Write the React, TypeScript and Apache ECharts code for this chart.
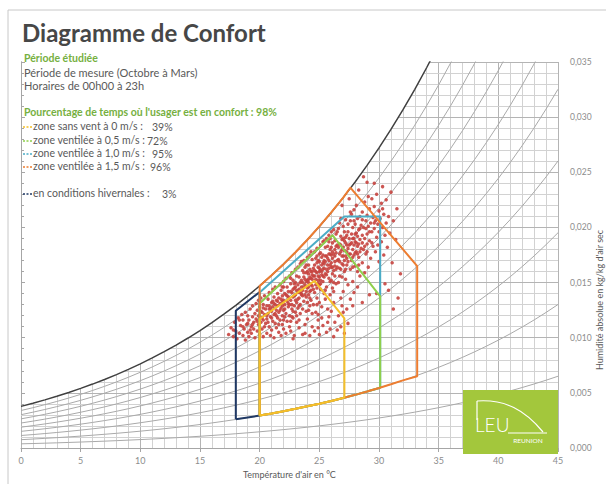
import React, { useEffect, useRef } from 'react';
import * as echarts from 'echarts';

// Saturation humidity (g/kg dry air) at T = 0..45 °C
const satHumidity = [
  3.775, 4.06, 4.364, 4.689, 5.034, 5.403, 5.796, 6.213, 6.657, 7.129,
  7.632, 8.166, 8.732, 9.334, 9.973, 10.651, 11.369, 12.131, 12.938, 13.794,
  14.7, 15.659, 16.674, 17.749, 18.885, 20.087, 21.359, 22.703, 24.124, 25.625,
  27.211, 28.887, 30.658, 32.527, 34.502, 36.587, 38.789, 41.114, 43.569, 46.161,
  48.897, 51.787, 54.84, 58.061, 61.466, 65.061,
];
const rhLevels = [0.1, 0.2, 0.3, 0.4, 0.5, 0.6, 0.7, 0.8, 0.9];

const xTicks = [0, 45, 5];
const yTicks = [0, 35, 5];

// Comfort zones [T °C, w g/kg]
const zoneWinter = [[18, 2.6], [18, 12.45], [20, 14.15], [20, 2.94], [18, 2.6]];
const zone0 = [[20, 2.94], [20, 11.7], [24.6, 15.15], [27.1, 11.75], [27.1, 4.57], [26, 4.27], [25, 4.02], [24, 3.78], [23, 3.55], [22, 3.33], [21, 3.13], [20, 2.94]];
const zone05 = [[20, 2.94], [20, 13.1], [26.1, 19.3], [30.1, 13.75], [30.1, 5.47], [29, 5.12], [28, 4.82], [27, 4.54], [26, 4.27], [25, 4.02], [24, 3.78], [23, 3.55], [22, 3.33], [21, 3.13], [20, 2.94]];
const zone10 = [[20, 2.94], [20, 14.1], [27.1, 21.0], [30.1, 21.0], [30.1, 5.47], [29, 5.12], [28, 4.82], [27, 4.54], [26, 4.27], [25, 4.02], [24, 3.78], [23, 3.55], [22, 3.33], [21, 3.13], [20, 2.94]];
const zone15 = [[20, 2.94], [20, 14.7], [21, 15.66], [22, 16.67], [23, 17.75], [24, 18.88], [25, 20.09], [26, 21.36], [27, 22.7], [27.6, 23.6], [33.2, 16.5], [33.2, 6.5], [32, 6.13], [31, 5.78], [30, 5.44], [29, 5.12], [28, 4.82], [27, 4.54], [26, 4.27], [25, 4.02], [24, 3.78], [23, 3.55], [22, 3.33], [21, 3.13], [20, 2.94]];

// Measured hourly points [T °C, w g/kg]
const measures = [
  [17.4,10.3],[17.6,10.9],[17.8,10.1],[17.9,11.4],[18.0,10.6],[18.1,9.9],[18.2,11.8],[18.3,10.4],[18.4,11.1],[18.5,12.1],
  [18.6,10.2],[18.6,11.6],[18.7,10.8],[18.8,12.3],[18.8,9.8],[18.9,11.2],[19.0,10.5],[19.0,12.0],[19.1,11.6],[19.1,10.1],[19.2,12.6],[19.3,11.0],[19.3,10.4],[19.4,11.9],[19.4,12.9],[19.5,10.8],[19.5,11.4],[19.2,10.7],
  [19.6,12.2],[19.6,10.0],[19.7,11.7],[19.7,13.1],[19.8,10.6],[19.8,12.5],[19.9,11.2],[19.9,13.4],[20.0,10.3],[20.0,11.9],[20.0,12.8],[20.1,11.4],[20.1,13.6],[20.2,10.8],[20.2,12.3],[20.3,11.6],[20.3,13.0],[20.3,10.1],[20.4,12.1],[20.4,11.0],[20.4,13.8],[20.5,12.6],[20.5,11.3],[20.2,11.8],[19.9,12.0],[20.1,12.4],
  [20.6,10.4],[20.6,12.9],[20.6,11.7],[20.7,13.5],[20.7,12.2],[20.8,11.0],[20.8,14.1],[20.8,12.6],[20.9,10.2],[20.9,11.9],[21.0,13.2],[21.0,12.4],[21.0,10.7],[21.1,14.4],[21.1,11.5],[21.1,12.8],[21.2,13.7],[21.2,10.0],[21.2,12.1],[21.3,11.3],[21.3,13.0],[21.3,14.6],[21.4,12.5],[21.4,10.9],[21.4,13.4],[21.5,11.8],[21.5,12.9],[21.5,14.0],[20.7,11.4],[20.9,12.7],[21.1,13.3],[21.3,12.2],
  [21.6,10.5],[21.6,13.6],[21.6,12.3],[21.7,14.8],[21.7,11.6],[21.7,13.1],[21.8,12.7],[21.8,10.2],[21.8,14.3],[21.9,13.8],[21.9,11.2],[21.9,12.0],[22.0,15.1],[22.0,13.4],[22.0,12.5],[22.0,10.8],[22.1,14.0],[22.1,11.9],[22.1,13.0],[22.2,15.4],[22.2,12.2],[22.2,10.4],[22.3,14.6],[22.3,13.3],[22.3,11.5],[22.4,12.8],[22.4,14.2],[22.4,13.7],[22.5,15.6],[22.5,12.0],[22.5,11.0],[21.8,13.5],[22.0,14.6],[22.2,13.9],[22.4,13.1],[21.9,12.9],
  [22.6,14.9],[22.6,13.4],[22.6,10.6],[22.7,12.6],[22.7,15.9],[22.7,14.1],[22.8,11.8],[22.8,13.7],[22.8,15.2],[22.9,12.9],[22.9,14.5],[22.9,10.2],[23.0,16.2],[23.0,13.9],[23.0,12.3],[23.0,15.0],[23.1,14.3],[23.1,11.4],[23.1,13.2],[23.2,16.4],[23.2,14.8],[23.2,12.7],[23.3,15.5],[23.3,13.6],[23.3,10.9],[23.4,14.1],[23.4,16.7],[23.4,12.2],[23.5,15.2],[23.5,13.9],[23.5,14.6],[22.7,13.0],[22.9,13.8],[23.1,15.6],[23.3,14.4],[23.0,14.6],[22.8,14.4],[23.2,13.5],[23.4,15.0],[23.1,12.0],
  [23.6,12.6],[23.6,16.1],[23.6,14.3],[23.7,17.0],[23.7,13.3],[23.7,15.5],[23.8,11.2],[23.8,14.8],[23.8,16.4],[23.9,13.7],[23.9,15.9],[23.9,12.4],[24.0,17.3],[24.0,14.5],[24.0,15.2],[24.0,11.7],[24.1,16.6],[24.1,13.9],[24.1,15.0],[24.2,14.2],[24.2,17.5],[24.2,12.9],[24.3,16.0],[24.3,15.4],[24.3,13.4],[24.4,17.1],[24.4,14.7],[24.4,11.0],[24.5,16.3],[24.5,15.6],[24.5,13.0],[23.7,14.6],[23.9,15.1],[24.1,15.8],[24.3,14.8],[24.0,16.0],[23.8,15.3],[24.2,15.5],[24.4,16.0],[23.6,15.0],[24.2,13.6],[23.9,14.2],[24.4,15.3],[24.1,14.6],
  [24.6,17.8],[24.6,14.1],[24.6,16.6],[24.7,15.3],[24.7,12.3],[24.7,17.2],[24.8,15.9],[24.8,13.6],[24.8,18.1],[24.9,16.4],[24.9,14.9],[24.9,11.6],[25.0,17.6],[25.0,15.5],[25.0,16.9],[25.0,13.2],[25.1,18.4],[25.1,16.1],[25.1,14.4],[25.2,15.7],[25.2,17.3],[25.2,12.8],[25.3,16.8],[25.3,18.7],[25.3,15.1],[25.4,14.0],[25.4,17.0],[25.4,16.3],[25.5,18.2],[25.5,15.8],[25.5,13.5],[24.7,16.0],[24.9,17.0],[25.1,15.2],[25.3,16.2],[24.8,16.8],[25.0,16.3],[25.2,16.6],[25.4,15.5],[24.6,15.6],[25.1,17.7],[24.9,15.6],[25.3,17.5],[25.0,14.8],[25.5,16.9],[24.8,14.5],
  [25.6,17.4],[25.6,14.6],[25.6,19.0],[25.7,16.0],[25.7,18.3],[25.7,12.6],[25.8,17.0],[25.8,15.4],[25.8,19.3],[25.9,16.6],[25.9,13.9],[25.9,18.0],[26.0,17.5],[26.0,19.6],[26.0,15.2],[26.0,16.8],[26.1,18.6],[26.1,14.5],[26.1,17.2],[26.2,16.1],[26.2,19.8],[26.2,13.2],[26.3,18.0],[26.3,16.9],[26.3,15.6],[26.4,17.7],[26.4,19.4],[26.4,14.9],[26.5,18.4],[26.5,16.4],[25.7,17.2],[25.9,17.6],[26.1,16.4],[26.3,17.4],[25.8,16.3],[26.0,18.2],[26.2,17.6],[26.4,16.2],[25.6,16.2],[26.1,15.8],[25.9,19.0],[26.3,18.8],
  [26.6,17.1],[26.6,19.9],[26.6,15.0],[26.7,18.5],[26.7,16.3],[26.7,20.4],[26.8,17.8],[26.8,13.6],[26.8,19.2],[26.9,16.7],[26.9,18.9],[26.9,15.5],[27.0,20.1],[27.0,17.4],[27.0,18.2],[27.0,14.2],[27.1,19.6],[27.1,16.0],[27.1,17.9],[27.2,20.7],[27.2,18.6],[27.2,15.3],[27.3,17.2],[27.3,19.3],[27.3,16.6],[27.4,20.3],[27.4,18.1],[27.4,14.8],[27.5,19.0],[27.5,17.6],[26.7,17.6],[26.9,18.0],[27.1,18.8],[27.3,18.4],[26.8,18.4],[27.0,19.0],[27.2,17.4],[27.4,19.6],
  [27.6,20.6],[27.6,16.2],[27.6,18.5],[27.7,19.4],[27.7,17.0],[27.7,21.2],[27.8,18.0],[27.8,15.1],[27.8,20.0],[27.9,19.0],[27.9,17.5],[27.9,21.6],[28.0,18.7],[28.0,16.5],[28.0,20.3],[28.1,19.5],[28.1,17.8],[28.1,22.0],[28.2,18.3],[28.2,20.8],[28.2,16.0],[28.3,19.8],[28.3,17.3],[28.4,21.0],[28.4,18.9],[28.4,15.6],[28.5,20.2],[28.5,18.1],[27.8,19.0],[28.0,19.4],[28.2,19.2],[28.4,19.9],
  [28.6,19.3],[28.6,21.4],[28.6,16.8],[28.7,20.0],[28.7,18.0],[28.8,22.3],[28.8,19.0],[28.8,15.9],[28.9,20.6],[28.9,17.6],[29.0,21.1],[29.0,19.4],[29.0,18.5],[29.1,20.1],[29.1,16.4],[29.2,21.7],[29.2,18.8],[29.3,20.4],[29.3,17.2],[29.4,19.6],[29.4,22.6],[29.5,18.3],[29.5,20.9],[28.9,19.9],
  [29.6,19.9],[29.6,21.9],[29.7,17.8],[29.7,20.6],[29.8,19.1],[29.8,23.0],[29.9,20.3],[29.9,18.4],[30.0,21.5],[30.0,19.6],[30.0,16.9],[30.1,20.8],[30.2,22.2],[30.2,18.7],[30.3,20.0],[30.4,21.2],[30.4,17.5],[30.5,19.3],
  [30.6,22.5],[30.6,20.4],[30.7,18.2],[30.8,21.0],[30.9,19.5],[31.0,23.2],[31.1,16.8],[31.2,20.6],[31.4,18.9],[31.5,21.7],[31.8,15.8],[31.6,13.6],
  [28.3,23.4],[29.0,24.1],[28.7,24.6],[29.6,24.0],[30.3,23.7],[26.9,22.0],[27.5,22.6],[30.8,14.3],[31.2,12.6],[29.8,14.0],[30.5,14.9],[29.2,13.9],[28.6,13.2],[27.8,12.9],[26.3,11.4],[24.9,10.9],[23.6,10.3],[22.8,9.9],[25.8,11.9],[27.0,12.3],
  [23.8,10.4],[24.2,10.2],[24.6,10.6],[25.0,10.3],[25.3,11.1],[25.6,10.5],[25.9,10.8],[26.2,10.1],[26.5,10.7],[26.8,11.0],[27.1,10.4],[27.4,11.3],[24.4,12.2],[25.7,11.4],[26.6,12.0],[27.3,12.6],[26.0,12.4],[24.9,12.1],[23.3,11.6],[22.6,11.5],[21.6,11.2],[27.6,13.5],[27.9,14.1],[28.2,14.6],[25.2,11.8],[26.9,12.9],
  [20.6,12.0],[20.8,12.9],[21.0,11.8],[21.2,13.1],[21.4,12.0],[21.5,13.3],[21.7,12.5],[21.9,13.3],[22.1,12.6],[22.3,13.8],[22.5,13.0],[22.6,14.2],[22.8,12.4],[22.9,14.9],[23.0,13.4],[23.2,14.1],[23.3,12.9],[23.5,14.0],[23.6,13.8],[23.7,15.9],[23.8,13.9],[23.9,16.6],[24.0,13.2],[24.1,15.3],[24.2,16.2],[24.3,14.3],[24.4,15.7],[24.5,14.4],[24.6,16.1],[24.7,14.8],[24.8,17.4],[24.9,15.2],[25.0,16.0],[25.1,14.9],[25.2,16.0],[25.3,15.6],[25.4,16.7],[25.5,17.4],[25.6,15.7],[25.7,16.6],[25.8,17.6],[25.9,15.1],[26.0,16.4],[26.1,17.8],[26.2,15.0],[26.3,16.5],[26.4,18.3],[26.5,17.0],[26.6,18.2],[26.7,16.9],[26.8,16.2],[26.9,17.4],[27.0,16.6],[27.1,17.0],[27.2,19.1],[27.3,17.8],[27.4,16.9],[27.5,18.4],[27.6,17.6],[27.7,18.6],[27.8,17.3],[27.9,18.4],[28.0,17.7],[28.1,18.6],[28.2,17.6],[28.3,18.5],[28.4,17.8],[28.6,18.6],[28.8,18.3],[29.0,17.8],[29.2,19.6],[29.4,18.6],[22.0,11.6],[22.7,11.9],[23.4,13.0],[24.1,12.5],[24.8,13.0],[25.5,14.3],[26.2,14.2],[26.7,15.6],[27.2,16.2],[27.8,16.4],[28.3,16.6],[20.3,12.7],[19.8,11.5],[19.4,11.2],[19.0,11.3],[18.6,11.0],[18.3,11.6],[17.8,10.7],[25.4,18.8],[26.5,19.6],[27.6,21.4],[28.6,20.7],[29.6,20.4],[30.3,21.7],[29.1,22.8],[24.3,17.8],[23.5,16.9],[22.6,15.4],[21.9,14.6],[25.8,18.7],[26.8,20.8],[27.9,20.6],
];

const legendRows = [
  { label: 'zone sans vent à 0 m/s :', value: '39%', color: '#f5c02a', y: 126, vx: 152 },
  { label: 'zone ventilée à 0,5 m/s :', value: '72%', color: '#8fcf4c', y: 140, vx: 147 },
  { label: 'zone ventilée à 1,0 m/s :', value: '95%', color: '#4bacc6', y: 153, vx: 152 },
  { label: 'zone ventilée à 1,5 m/s :', value: '96%', color: '#ed7d31', y: 166, vx: 150 },
  { label: 'en conditions hivernales :', value: '3%', color: '#1f3864', y: 193, vx: 162 },
];

const FONT = 'Lato, "Open Sans", sans-serif';

function dewT(w: number): number {
  if (w <= satHumidity[0]) return 0;
  for (let i = 0; i < satHumidity.length - 1; i++) {
    if (w >= satHumidity[i] && w <= satHumidity[i + 1]) {
      return i + (w - satHumidity[i]) / (satHumidity[i + 1] - satHumidity[i]);
    }
  }
  return 45;
}

function buildOption() {
  const gridData: any[] = [];
  for (let t = xTicks[0]; t <= xTicks[1]; t++) {
    const top = Math.min(satHumidity[t], yTicks[1]);
    gridData.push({ coords: [[t, 0], [t, top]], lineStyle: { color: t % 5 === 0 ? '#b4b4b4' : '#d2d2d2' } });
  }
  for (let w = 1; w <= yTicks[1]; w++) {
    gridData.push({ coords: [[dewT(w), w], [45, w]], lineStyle: { color: w % 5 === 0 ? '#b4b4b4' : '#d2d2d2' } });
  }

  const rhSeries = rhLevels.map((phi) => ({
    type: 'line',
    data: satHumidity.map((ws, t) => [t, ws * phi]),
    showSymbol: false,
    silent: true,
    lineStyle: { color: '#a9a9a9', width: 1 },
    z: 3,
  }));

  const zone = (data: number[][], color: string, z: number) => ({
    type: 'line',
    data,
    showSymbol: false,
    silent: true,
    lineStyle: { color, width: 2 },
    z,
  });

  const textStyle = (extra: any) => ({ fontFamily: FONT, fontSize: 10.5, fill: '#595959', ...extra });

  const graphics: any[] = [
    { type: 'line', shape: { x1: 8, y1: 10, x2: 606, y2: 10 }, style: { stroke: '#c8c8c8', lineWidth: 1 }, z: 100 },
    { type: 'line', shape: { x1: 8, y1: 10, x2: 8, y2: 484 }, style: { stroke: '#c8c8c8', lineWidth: 1 }, z: 100 },
    { type: 'text', x: 22, y: 32, style: textStyle({ text: 'Diagramme de Confort', fontSize: 24, fontWeight: 'bold', fill: '#474747', textVerticalAlign: 'middle' }), z: 100 },
    { type: 'text', x: 24, y: 58, style: textStyle({ text: 'Période étudiée', fontWeight: 'bold', fill: '#76b041', textVerticalAlign: 'middle' }), z: 100 },
    { type: 'text', x: 24, y: 72, style: textStyle({ text: 'Période de mesure (Octobre à Mars)', fontSize: 11, textVerticalAlign: 'middle' }), z: 100 },
    { type: 'text', x: 24, y: 85, style: textStyle({ text: 'Horaires de 00h00 à 23h', fontSize: 11, textVerticalAlign: 'middle' }), z: 100 },
    { type: 'text', x: 24, y: 112, style: textStyle({ text: "Pourcentage de temps où l'usager est en confort : 98%", fontWeight: 'bold', fill: '#76b041', textVerticalAlign: 'middle' }), z: 100 },
    { type: 'text', x: 599, y: 300, rotation: Math.PI / 2, style: textStyle({ text: "Humidité absolue en kg/kg d'air sec", fontSize: 9, textAlign: 'center', textVerticalAlign: 'middle' }), z: 100 },
    // logo
    { type: 'rect', shape: { x: 463, y: 390, width: 95, height: 64 }, style: { fill: '#a3c73c' }, z: 100 },
    { type: 'polyline', shape: { points: [[477, 420], [477, 401]] }, style: { stroke: '#ffffff', lineWidth: 1.2, fill: null }, z: 101 },
    { type: 'bezierCurve', shape: { x1: 477, y1: 401, cpx1: 505, cpy1: 399, cpx2: 525, cpy2: 410, x2: 543, y2: 432 }, style: { stroke: '#ffffff', lineWidth: 1.2, fill: null }, z: 101 },
    { type: 'line', shape: { x1: 508, y1: 433, x2: 547, y2: 433 }, style: { stroke: '#ffffff', lineWidth: 1 }, z: 101 },
    { type: 'text', x: 475, y: 434, style: { text: 'LEU', fontFamily: FONT, fontSize: 19, fontWeight: 300, fill: '#ffffff', textVerticalAlign: 'bottom' }, z: 101 },
    { type: 'text', x: 528, y: 440, style: { text: 'REUNION', fontFamily: FONT, fontSize: 6.5, fill: '#ffffff', textAlign: 'center', textVerticalAlign: 'middle' }, z: 101 },
  ];
  legendRows.forEach((r) => {
    graphics.push({ type: 'line', shape: { x1: 23, y1: r.y + 1, x2: 32, y2: r.y + 1 }, style: { stroke: r.color, lineWidth: 1.5, lineDash: [2, 1.5] }, z: 100 });
    graphics.push({ type: 'text', x: 33, y: r.y, style: textStyle({ text: r.label, textVerticalAlign: 'middle' }), z: 100 });
    graphics.push({ type: 'text', x: r.vx, y: r.y + 1, style: textStyle({ text: r.value, textVerticalAlign: 'middle' }), z: 100 });
  });

  return {
    animation: false,
    backgroundColor: '#ffffff',
    grid: { left: 21, right: 48, top: 62, bottom: 30 },
    xAxis: {
      type: 'value', min: xTicks[0], max: xTicks[1], interval: xTicks[2],
      splitLine: { show: false },
      axisLine: { lineStyle: { color: '#a6a6a6' } },
      axisTick: { show: true, length: 4, lineStyle: { color: '#a6a6a6' } },
      axisLabel: { color: '#8c8c8c', fontSize: 9, margin: 8, fontFamily: FONT },
      name: "Température d'air en °C", nameLocation: 'middle', nameGap: 22,
      nameTextStyle: { color: '#595959', fontSize: 9, fontFamily: FONT },
    },
    yAxis: [
      {
        type: 'value', position: 'right', min: yTicks[0], max: yTicks[1], interval: yTicks[2],
        splitLine: { show: false },
        axisLine: { show: true, lineStyle: { color: '#a6a6a6' } },
        axisTick: { show: true, length: 4, lineStyle: { color: '#a6a6a6' } },
        axisLabel: { color: '#8c8c8c', fontSize: 8.5, margin: 12, fontFamily: FONT, formatter: (v: number) => (v / 1000).toFixed(3).replace('.', ',') },
      },
      {
        type: 'value', position: 'left', min: 0, max: 35, interval: 1,
        splitLine: { show: false },
        axisLine: { show: true, lineStyle: { color: '#a6a6a6' } },
        axisTick: { show: true, inside: true, length: 3, lineStyle: { color: '#a6a6a6' } },
        axisLabel: { show: false },
      },
    ],
    series: [
      { type: 'lines', coordinateSystem: 'cartesian2d', polyline: false, silent: true, data: gridData, lineStyle: { width: 1, opacity: 1 }, z: 1 },
      ...rhSeries,
      { type: 'line', data: satHumidity.map((ws, t) => [t, ws]), showSymbol: false, silent: true, lineStyle: { color: '#404040', width: 1.5 }, z: 4 },
      { type: 'scatter', data: measures, symbol: 'circle', symbolSize: 3.5, silent: true, itemStyle: { color: '#c6443f', opacity: 0.9 }, z: 5 },
      zone(zoneWinter, '#1f3864', 6),
      zone(zone10, '#4bacc6', 7),
      zone(zone05, '#8fcf4c', 8),
      zone(zone15, '#ed7d31', 9),
      zone(zone0, '#f5c02a', 10),
    ],
    graphic: graphics,
  };
}

export default function App() {
  const ref = useRef<HTMLDivElement>(null);
  useEffect(() => {
    if (!ref.current) return;
    const chart = echarts.init(ref.current, null, { renderer: 'svg' });
    chart.setOption(buildOption() as any);
    return () => chart.dispose();
  }, []);
  return <div ref={ref} style={{ position: 'fixed', left: 0, top: 0, width: 606, height: 484, background: '#fff' }} />;
}
